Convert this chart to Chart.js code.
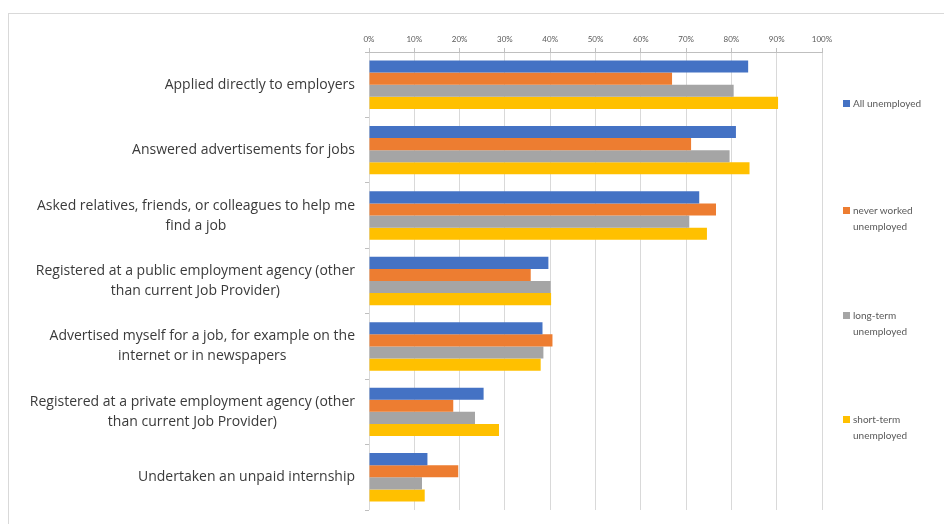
<!DOCTYPE html>
<html>
<head>
<meta charset="utf-8">
<script src="https://cdn.jsdelivr.net/npm/chart.js@4/dist/chart.umd.min.js"></script>
<style>
  html, body { margin: 0; padding: 0; background: #fff; }
  #wrap { position: relative; width: 944px; height: 524px; overflow: hidden; }
  #frame { position: absolute; left: 8px; top: 13px; width: 960px; height: 540px; border: 1px solid #d9d9d9; box-sizing: border-box; }
  #chart { position: absolute; left: 0; top: 0; }
  .leg { position: absolute; left: 843px; font: 10px Lato, sans-serif; color: #595959; line-height: 16px; }
  .leg i { position: absolute; left: 0; top: 5px; width: 7px; height: 7px; }
  .leg span { display: block; padding-left: 10px; }
</style>
</head>
<body>
<div id="wrap">
  <div id="frame"></div>
  <canvas id="chart" width="944" height="524"></canvas>
</div>
<script>
const categories = [
    ['Applied directly to employers'],
    ['Answered advertisements for jobs'],
    ['Asked relatives, friends, or colleagues to help me', 'find a job'],
    ['Registered at a public employment agency (other', 'than current Job Provider)'],
    ['Advertised myself for a job, for example on the', 'internet or in newspapers'],
    ['Registered at a private employment agency (other', 'than current Job Provider)'],
    ['Undertaken an unpaid internship']
];
const seriesNames = ['All unemployed', 'never worked unemployed', 'long-term unemployed', 'short-term unemployed'];
const legendLines = [['All unemployed'], ['never worked', 'unemployed'], ['long-term', 'unemployed'], ['short-term', 'unemployed']];
const allUnemployed = [83.7, 81.0, 72.9, 39.6, 38.3, 25.3, 12.9];
const neverWorked = [66.9, 71.1, 76.6, 35.7, 40.5, 18.6, 19.7];
const longTerm = [80.5, 79.6, 70.7, 40.1, 38.5, 23.4, 11.7];
const shortTerm = [90.3, 84.0, 74.6, 40.2, 37.9, 28.7, 12.3];
const xTicks = [0, 10, 20, 30, 40, 50, 60, 70, 80, 90, 100];

const colors = ['#4472c4', '#ed7d31', '#a5a5a5', '#ffc000'];
const series = [allUnemployed, neverWorked, longTerm, shortTerm];

// category labels drawn centred inside a right-aligned block, like the original
const labelPlugin = {
    id: 'catLabels',
    afterDraw(chart) {
        const ctx = chart.ctx;
        const y = chart.scales.y;
        const right = 355;
        ctx.save();
        ctx.font = '14px "Open Sans", sans-serif';
        ctx.fillStyle = '#3a3a3a';
        ctx.textAlign = 'center';
        ctx.textBaseline = 'middle';
        categories.forEach((lines, i) => {
            const cy = y.getPixelForValue(i);
            const w = Math.max(...lines.map(l => ctx.measureText(l).width));
            const cx = right - w / 2;
            lines.forEach((l, j) => {
                ctx.fillText(l, cx, cy + (j - (lines.length - 1) / 2) * 20);
            });
        });
        ctx.restore();
    }
};

new Chart(document.getElementById('chart'), {
    type: 'bar',
    data: {
        labels: categories.map(c => c.join(' ')),
        datasets: series.map((d, i) => ({
            label: seriesNames[i],
            data: d,
            backgroundColor: colors[i],
            borderWidth: 0,
            categoryPercentage: 0.74,
            barPercentage: 1
        }))
    },
    options: {
        indexAxis: 'y',
        responsive: false,
        animation: false,
        layout: { padding: { left: 8, right: 122, top: 28, bottom: 14 } },
        plugins: {
            legend: { display: false },
            tooltip: { enabled: false }
        },
        scales: {
            x: {
                position: 'top',
                min: 0,
                max: 100,
                afterBuildTicks: s => { s.ticks = xTicks.map(v => ({ value: v })); },
                afterFit: s => { s.height = 24; },
                grid: { color: '#d9d9d9', tickLength: 4, tickColor: '#bfbfbf' },
                border: { color: '#bfbfbf' },
                ticks: {
                    color: '#595959',
                    font: { family: 'Lato, sans-serif', size: 8 },
                    padding: 4,
                    callback: v => v + '%'
                }
            },
            y: {
                afterFit: s => { s.width = 361; },
                grid: { drawOnChartArea: false, tickLength: 4, color: '#bfbfbf', offset: true },
                border: { display: false },
                ticks: { display: false }
            }
        }
    },
    plugins: [labelPlugin]
});

// legend on the right, spread down the plot like the original
const legTops = [95, 202, 307, 411];
const wrap = document.getElementById('wrap');
legendLines.forEach((lines, i) => {
    const d = document.createElement('div');
    d.className = 'leg';
    d.style.top = legTops[i] + 'px';
    d.innerHTML = '<i style="background:' + colors[i] + '"></i>' + lines.map(l => '<span>' + l + '</span>').join('');
    wrap.appendChild(d);
});
</script>
</body>
</html>
